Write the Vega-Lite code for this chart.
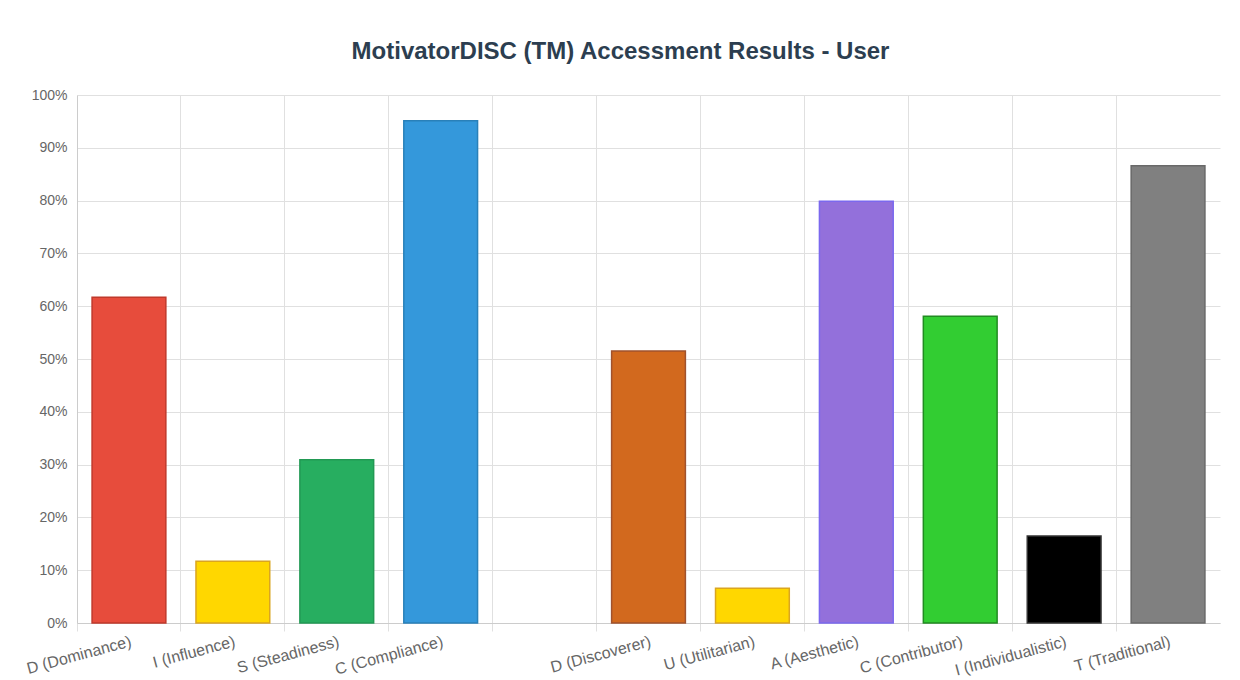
{
  "$schema": "https://vega.github.io/schema/vega-lite/v6.json",
  "autosize": {"type": "none"},
  "padding": {"left": 77, "top": 95, "right": 20, "bottom": 57},
  "width": 1143,
  "height": 528,
  "background": "#ffffff",
  "config": {"view": {"stroke": null}},
  "title": {
    "text": "MotivatorDISC (TM) Accessment Results - User",
    "font": "Liberation Sans",
    "fontSize": 24,
    "fontWeight": "bold",
    "color": "#2c3e50",
    "anchor": "middle",
    "dx": -28,
    "offset": 24
  },
  "data": {
    "values": [
      {"trait": "D (Dominance)", "score": 0.617},
      {"trait": "I (Influence)", "score": 0.117},
      {"trait": "S (Steadiness)", "score": 0.309},
      {"trait": "C (Compliance)", "score": 0.951},
      {"trait": " ", "score": null},
      {"trait": "D (Discoverer)", "score": 0.515},
      {"trait": "U (Utilitarian)", "score": 0.066},
      {"trait": "A (Aesthetic)", "score": 0.799},
      {"trait": "C (Contributor)", "score": 0.581},
      {"trait": "I (Individualistic)", "score": 0.165},
      {"trait": "T (Traditional)", "score": 0.866}
    ]
  },
  "mark": {"type": "bar", "width": {"band": 0.71}, "strokeWidth": 1.5},
  "encoding": {
    "x": {
      "field": "trait",
      "type": "nominal",
      "sort": null,
      "title": null,
      "scale": {
        "domain": ["D (Dominance)", "I (Influence)", "S (Steadiness)", "C (Compliance)", " ", "D (Discoverer)", "U (Utilitarian)", "A (Aesthetic)", "C (Contributor)", "I (Individualistic)", "T (Traditional)"],
        "paddingInner": 0,
        "paddingOuter": 0
      },
      "axis": {
        "bandPosition": 0,
        "grid": true,
        "gridColor": "#e0e0e0",
        "domainColor": "#cccccc",
        "tickColor": "#e0e0e0",
        "tickSize": 8,
        "labelAngle": -15,
        "labelFont": "Liberation Sans",
        "labelFontSize": 16,
        "labelColor": "#666666",
        "labelPadding": 2,
        "labelOverlap": false
      }
    },
    "y": {
      "field": "score",
      "type": "quantitative",
      "title": null,
      "scale": {"domain": [0, 1]},
      "axis": {
        "format": ".0%",
        "values": [0, 0.1, 0.2, 0.3, 0.4, 0.5, 0.6, 0.7, 0.8, 0.9, 1],
        "grid": true,
        "gridColor": "#e0e0e0",
        "domainColor": "#cccccc",
        "ticks": false,
        "labelOverlap": false,
        "labelFont": "Liberation Sans",
        "labelFontSize": 14,
        "labelColor": "#666666",
        "labelPadding": 10
      }
    },
    "fill": {
      "field": "trait",
      "type": "nominal",
      "legend": null,
      "scale": {
        "domain": ["D (Dominance)", "I (Influence)", "S (Steadiness)", "C (Compliance)", " ", "D (Discoverer)", "U (Utilitarian)", "A (Aesthetic)", "C (Contributor)", "I (Individualistic)", "T (Traditional)"],
        "range": ["#e74c3c", "#ffd700", "#27ae60", "#3498db", "#ffffff", "#d2691e", "#ffd700", "#9370db", "#32cd32", "#000000", "#808080"]
      }
    },
    "stroke": {
      "field": "trait",
      "type": "nominal",
      "legend": null,
      "scale": {
        "domain": ["D (Dominance)", "I (Influence)", "S (Steadiness)", "C (Compliance)", " ", "D (Discoverer)", "U (Utilitarian)", "A (Aesthetic)", "C (Contributor)", "I (Individualistic)", "T (Traditional)"],
        "range": ["#c0392b", "#daa520", "#229954", "#2980b9", "#ffffff", "#a0522d", "#daa520", "#7b68ee", "#228b22", "#333333", "#696969"]
      }
    }
  }
}
